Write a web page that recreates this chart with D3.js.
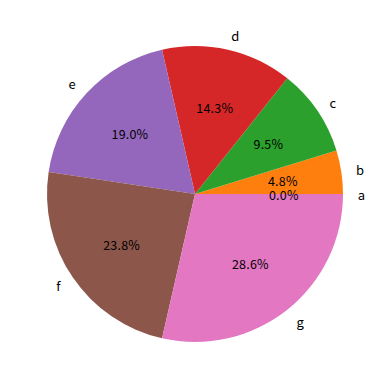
<!DOCTYPE html>
<html><head><meta charset="utf-8">
<script src="https://cdn.jsdelivr.net/npm/d3@7"></script>
<style>body{margin:0;background:#fff}svg{display:block}text{font-family:"Noto Sans CJK SC","DejaVu Sans",sans-serif;font-size:13px;fill:#000}text.pct{font-size:12.5px;letter-spacing:0.2px}</style>
</head><body>
<svg id="c" width="389" height="389"></svg>
<script>
const categories = ["a","b","c","d","e","f","g"];
const values = [0,1,2,3,4,5,6];
const colors = ["#1f77b4","#ff7f0e","#2ca02c","#d62728","#9467bd","#8c564b","#e377c2"];

const W = 389, H = 389, cx = 195, cy = 194, R = 148;
const svg = d3.select("#c");
const g = svg.append("g").attr("transform", `translate(${cx},${cy})`);
const total = d3.sum(values);
const data = categories.map((c,i)=>({c, v: values[i], col: colors[i]}));
const pie = d3.pie().value(d=>d.v).sort(null).startAngle(Math.PI/2).endAngle(Math.PI/2 - 2*Math.PI);
const arcs = pie(data);
const arc = d3.arc().innerRadius(0).outerRadius(R);
g.selectAll("path").data(arcs).join("path").attr("d", arc).attr("fill", d=>d.data.col);

const fmt = d3.format(".1f");
function pos(d, r){
  const a = (d.startAngle + d.endAngle)/2;
  return [r*Math.sin(a), -r*Math.cos(a)];
}
g.selectAll("text.pct").data(arcs).join("text").attr("class","pct")
  .attr("x", d=>pos(d,0.6*R)[0]).attr("y", d=>pos(d,0.6*R)[1])
  .attr("text-anchor","middle").attr("dominant-baseline","central")
  .text(d=>fmt(d.data.v/total*100)+"%");
g.selectAll("text.lab").data(arcs).join("text").attr("class","lab")
  .attr("x", d=>pos(d,1.1*R)[0]).attr("y", d=>pos(d,1.1*R)[1])
  .attr("text-anchor", d=>pos(d,1)[0] >= 0 ? "start" : "end")
  .attr("dominant-baseline","central")
  .text(d=>d.data.c);
</script>
</body></html>
